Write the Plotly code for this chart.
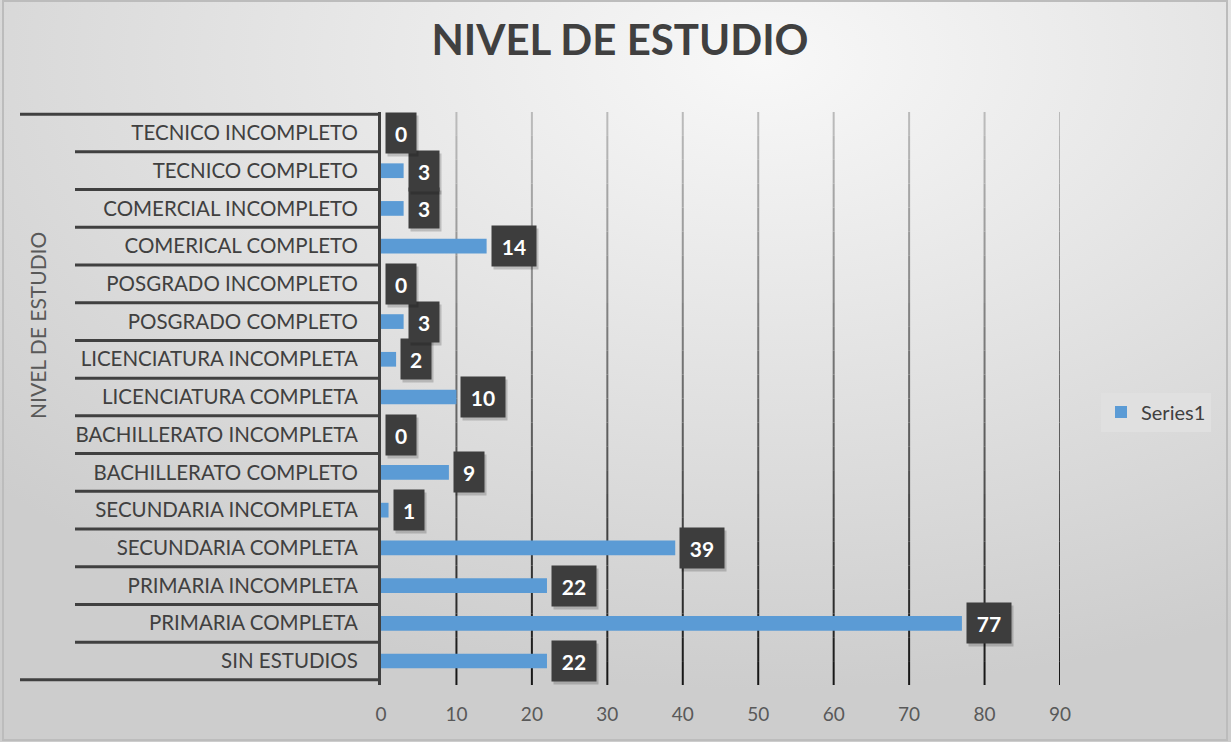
import plotly.graph_objects as go

categories = [
    "SIN ESTUDIOS", "PRIMARIA COMPLETA", "PRIMARIA INCOMPLETA", "SECUNDARIA COMPLETA",
    "SECUNDARIA INCOMPLETA", "BACHILLERATO COMPLETO", "BACHILLERATO INCOMPLETA",
    "LICENCIATURA COMPLETA", "LICENCIATURA INCOMPLETA", "POSGRADO COMPLETO",
    "POSGRADO INCOMPLETO", "COMERICAL COMPLETO", "COMERCIAL INCOMPLETO",
    "TECNICO COMPLETO", "TECNICO INCOMPLETO",
]
values = [22, 77, 22, 39, 1, 9, 0, 10, 2, 3, 0, 14, 3, 3, 0]
x_ticks = [0, 10, 20, 30, 40, 50, 60, 70, 80, 90]
series_name = "Series1"
title_text = "NIVEL DE ESTUDIO"
axis_title = "NIVEL DE ESTUDIO"

FONT = "Lato, 'Open Sans', sans-serif"
DARK = "#404040"
BLUE = "#5b9bd5"

# plot area geometry (px)
W, H = 1231, 742
L, R, T, B = 381, 1060, 112, 685
pw, ph = R - L, B - T

def px_to_paper_x(px):
    return (px - L) / pw

def px_to_paper_y(py):
    return (B - py) / ph

fig = go.Figure()
fig.add_trace(go.Bar(
    x=values, y=categories, orientation="h", name=series_name,
    marker=dict(color=BLUE, line=dict(width=0)),
    showlegend=True,
))

bg_svg = (
    "data:image/svg+xml;utf8,"
    "<svg xmlns='http://www.w3.org/2000/svg' width='1231' height='742'>"
    "<defs><radialGradient id='g' cx='62%' cy='8%' r='85%'>"
    "<stop offset='0%' stop-color='%23f8f8f8'/>"
    "<stop offset='100%' stop-color='%23cdcdcd'/>"
    "</radialGradient></defs>"
    "<rect width='1231' height='742' fill='url(%23g)'/>"
    "<rect x='3' y='1' width='1224' height='739' fill='none' stroke='%23bcbcbc' stroke-width='2'/>"
    "</svg>"
)

shapes = []
# gridlines fading from light gray (top) to near-black (bottom)
nseg = 24
for tv in x_ticks[1:]:
    for s in range(nseg):
        f = (s + 0.5) / nseg  # 0 bottom -> 1 top
        c = int(20 + 170 * f)
        shapes.append(dict(type="line", xref="x", yref="paper", layer="below",
                           x0=tv, x1=tv, y0=s / nseg, y1=(s + 1) / nseg,
                           line=dict(color=f"rgb({c},{c},{c})", width=2)))
# category separators (multi-level axis style)
for k in range(len(categories) - 1):
    shapes.append(dict(type="line", xref="paper", yref="y",
                       x0=px_to_paper_x(75), x1=0, y0=k + 0.5, y1=k + 0.5,
                       line=dict(color=DARK, width=3)))
for yb in (-0.5, len(categories) - 0.5):
    shapes.append(dict(type="line", xref="paper", yref="y",
                       x0=px_to_paper_x(20), x1=0, y0=yb, y1=yb,
                       line=dict(color=DARK, width=3)))

annotations = []
for cat, v in zip(categories, values):
    w = 30 if v < 10 else 44
    annotations.append(dict(
        x=v, y=cat, xref="x", yref="y", text="", showarrow=False,
        xanchor="left", yanchor="middle", xshift=6, yshift=-3,
        width=w, height=40, bgcolor="rgba(0,0,0,0.18)", borderpad=0,
    ))
    annotations.append(dict(
        x=v, y=cat, xref="x", yref="y", text=f"<b>{v}</b>", showarrow=False,
        xanchor="left", yanchor="middle", xshift=4,
        width=w, height=40, bgcolor="#3d3d3d", borderpad=0,
        font=dict(family=FONT, size=21, color="white"),
    ))
annotations.append(dict(
    x=px_to_paper_x(37), y=px_to_paper_y(326), xref="paper", yref="paper",
    xanchor="center", yanchor="middle",
    text=axis_title, textangle=-90, showarrow=False,
    font=dict(family=FONT, size=21, color="#595959"),
))

fig.update_layout(
    width=W, height=H,
    margin=dict(l=L, r=W - R, t=T, b=H - B, autoexpand=False),
    paper_bgcolor="#e2e2e2",
    plot_bgcolor="rgba(0,0,0,0)",
    images=[dict(source=bg_svg, xref="paper", yref="paper",
                 x=px_to_paper_x(0), y=px_to_paper_y(0),
                 sizex=W / pw, sizey=H / ph, sizing="stretch",
                 xanchor="left", yanchor="top", layer="below")],
    title=dict(text=f"<b>{title_text}</b>", x=620 / W, xanchor="center",
               y=1 - 40 / H, yanchor="middle",
               font=dict(family=FONT, size=42, color="#404040")),
    bargap=0.61,
    xaxis=dict(range=[0, 90], tickvals=x_ticks, showgrid=False,
               zeroline=False, showline=False,
               ticks="", ticklabelstandoff=16,
               tickfont=dict(family=FONT, size=19, color="#595959")),
    yaxis=dict(showline=True, linecolor=DARK, linewidth=3, showgrid=False,
               zeroline=False, ticks="", ticklabelstandoff=16,
               tickfont=dict(family=FONT, size=20.5, color=DARK)),
    legend=dict(x=px_to_paper_x(1101), y=px_to_paper_y(412), xanchor="left",
                yanchor="middle", bgcolor="#e0e0e0", borderwidth=0,
                font=dict(family=FONT, size=20, color="#404040")),
    shapes=shapes,
    annotations=annotations,
)

fig.write_html(
    "out.html",
    config={"displayModeBar": False},
    post_script="document.body.style.margin='0';document.body.style.overflow='hidden';",
)
